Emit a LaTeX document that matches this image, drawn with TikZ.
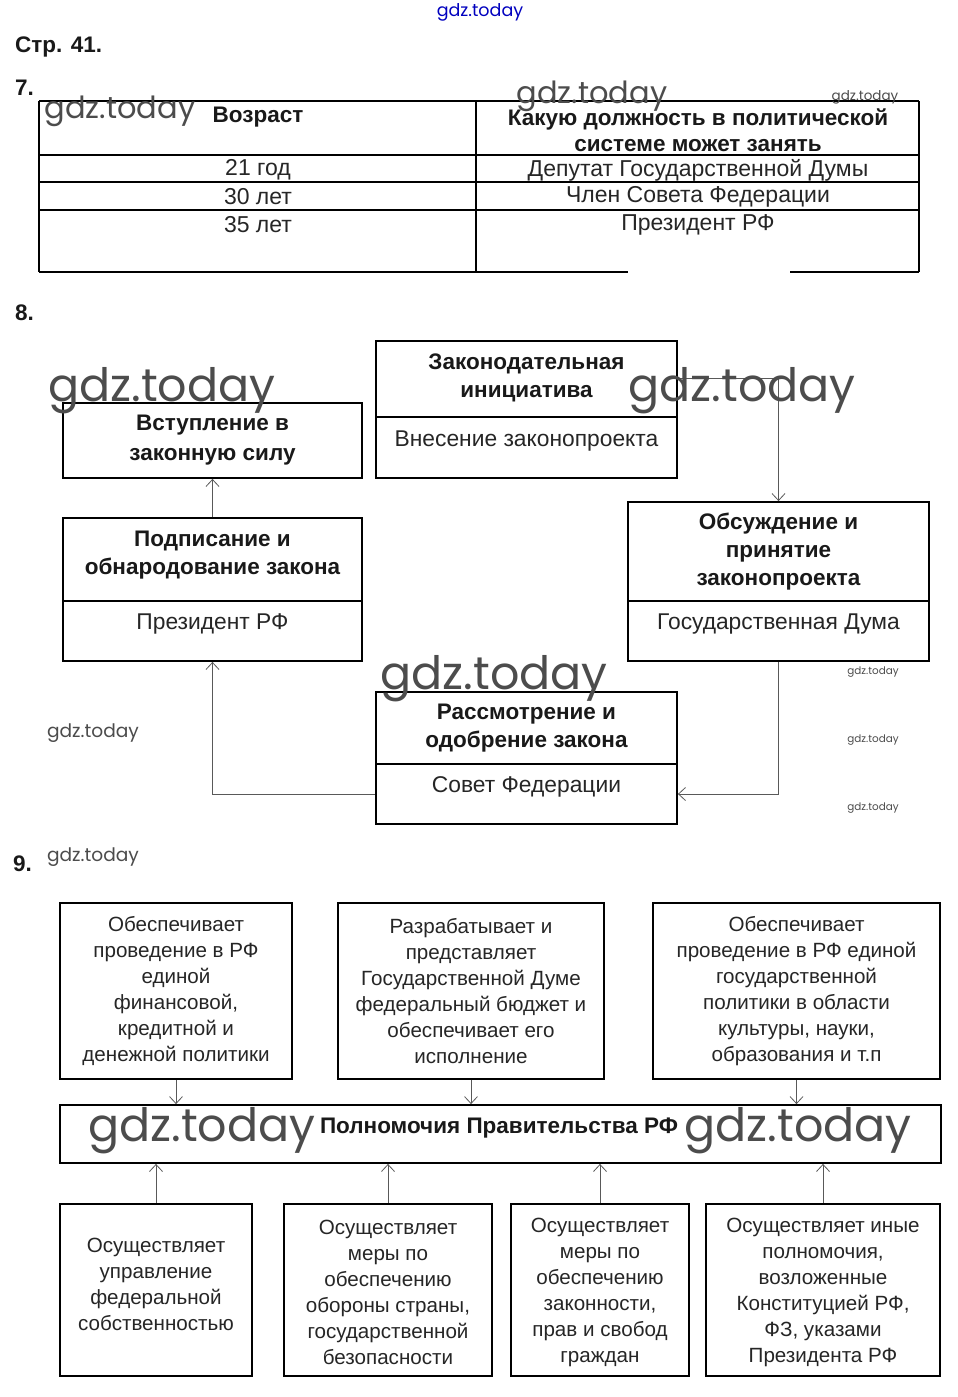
\documentclass[tikz,border=0pt]{standalone}
\usepackage{fontspec}
\setmainfont{Liberation Sans}
\newfontfamily\wmfont{Poppins}
\usetikzlibrary{arrows.meta,calc}
\begin{document}
\begin{tikzpicture}[x=1pt,y=-1pt,
  box/.style={draw=black, line width=1.8pt, inner sep=0pt},
  tbl/.style={draw=black, line width=1.3pt},
  dv/.style={draw=black, line width=1.8pt},
  txt/.style={align=center, inner sep=0pt, text=black!85, font=\fontsize{22.8}{28}\selectfont},
  ttl/.style={align=center, inner sep=0pt, text=black!90, font=\bfseries\fontsize{22.5}{28}\selectfont},
  stx/.style={align=center, inner sep=0pt, text=black!85, font=\fontsize{20.6}{26}\selectfont},
  arr/.style={draw=black!65, line width=0.8pt, -{Straight Barb[length=7pt,width=13pt]}},
  wm/.style={inner sep=0pt, text=black!70, font=\wmfont\fontsize{#1}{#1}\selectfont},
  hd/.style={inner sep=0pt, anchor=west, text=black!90, font=\bfseries\fontsize{22.5}{24}\selectfont}]
\fill[white] (0,0) rectangle (958,1397);
\useasboundingbox (0,0) rectangle (958,1397);

% ---------- header ----------
\node[wm=17.5, text=blue!75!black] (wtop) at (480,12) {gdz.today};
\node[hd] (str) at (15,47) {Стр. 41.};
\node[hd] (n7) at (15,88) {7.};

% ---------- table (7) ----------
\draw[tbl] (39,101) -- (919,101);
\draw[tbl] (39,155) -- (919,155);
\draw[tbl] (39,182) -- (919,182);
\draw[tbl] (39,210) -- (919,210);
\draw[tbl] (39,101) -- (39,272);
\draw[tbl] (476,101) -- (476,272);
\draw[tbl] (919,101) -- (919,272);
\draw[tbl] (39,272) -- (628,272);
\draw[tbl] (790,272) -- (919,272);

\node[ttl] (h1) at (258,117) {Возраст};
\node[ttl, font=\bfseries\fontsize{22.5}{26}\selectfont] (h2) at (698,130) {Какую должность в политической\\системе может занять};
\node[txt, font=\fontsize{23}{28}\selectfont] (r1a) at (258,170) {21 год};
\node[txt, font=\fontsize{23}{28}\selectfont] (r1b) at (698,170) {Депутат Государственной Думы};
\node[txt, font=\fontsize{23}{28}\selectfont] (r2a) at (258,197) {30 лет};
\node[txt, font=\fontsize{23}{28}\selectfont] (r2b) at (698,197) {Член Совета Федерации};
\node[txt, font=\fontsize{23}{28}\selectfont] (r3a) at (258,225) {35 лет};
\node[txt, font=\fontsize{23}{28}\selectfont] (r3b) at (698,225) {Президент РФ};

\node[wm=30.5] (w1) at (120,111) {gdz.today};
\node[wm=30.5] (w2) at (592,96) {gdz.today};
\node[wm=13.5] (w3) at (865,97) {gdz.today};

% ---------- scheme (8) ----------
\node[hd] (n8) at (15,313) {8.};

\node[box, minimum width=301pt, minimum height=137pt] (A) at (526.5,409.5) {};
\draw[dv] (376,417) -- (677,417);
\node[ttl] (At) at (526.5,378) {Законодательная\\инициатива};
\node[txt] (Ab) at (526.5,441) {Внесение законопроекта};

\node[box, minimum width=299pt, minimum height=75pt] (B) at (212.5,440.5) {};
\node[ttl, font=\bfseries\fontsize{22.5}{30}\selectfont] (Bt) at (212.5,440) {Вступление в\\законную силу};

\node[box, minimum width=299pt, minimum height=143pt] (C) at (212.5,589.5) {};
\draw[dv] (63,601) -- (362,601);
\node[ttl] (Ct) at (212.5,555) {Подписание и\\обнародование закона};
\node[txt] (Cb) at (212.5,624) {Президент РФ};

\node[box, minimum width=301pt, minimum height=159pt] (D) at (778.5,581.5) {};
\draw[dv] (628,601) -- (929,601);
\node[ttl] (Dt) at (778.5,552) {Обсуждение и\\принятие\\законопроекта};
\node[txt] (Db) at (778.5,624) {Государственная Дума};

\node[box, minimum width=301pt, minimum height=132pt] (E) at (526.5,758) {};
\draw[dv] (376,764) -- (677,764);
\node[ttl] (Et) at (526.5,728) {Рассмотрение и\\одобрение закона};
\node[txt] (Eb) at (526.5,787) {Совет Федерации};

\draw[arr] ($(A.north east)+(0,38)$) -| (D.north);
\draw[arr] (D.south) |- ($(E.east)+(0,36)$);
\draw[arr] ($(E.west)+(0,36)$) -| (C.south);
\draw[arr] (C.north) -- (B.south);

\node[wm=46] (w4) at (162,391) {gdz.today};
\node[wm=46] (w5) at (742,391) {gdz.today};
\node[wm=46] (w6) at (494,679) {gdz.today};
\node[wm=18.6] (w7) at (93,733) {gdz.today};
\node[wm=10.4] (w8) at (873,672) {gdz.today};
\node[wm=10.4] (w9) at (873,740) {gdz.today};
\node[wm=10.4] (w10) at (873,808) {gdz.today};
\node[wm=18.6] (w11) at (93,857) {gdz.today};

% ---------- scheme (9) ----------
\node[hd] (n9) at (13,864) {9.};

\node[box, minimum width=232pt, minimum height=176pt] (T1) at (176,991) {};
\node[box, minimum width=266pt, minimum height=176pt] (T2) at (471,991) {};
\node[box, minimum width=287pt, minimum height=176pt] (T3) at (796.5,991) {};
\node[stx] (T1t) at (176,991) {Обеспечивает\\проведение в РФ\\единой\\финансовой,\\кредитной и\\денежной политики};
\node[stx] (T2t) at (471,991) {Разрабатывает и\\представляет\\Государственной Думе\\федеральный бюджет и\\обеспечивает его\\исполнение};
\node[stx] (T3t) at (796.5,991) {Обеспечивает\\проведение в РФ единой\\государственной\\политики в области\\культуры, науки,\\образования и т.п};

\node[box, minimum width=881pt, minimum height=58pt] (M) at (500.5,1134) {};
\node[ttl, font=\bfseries\fontsize{22.5}{24}\selectfont] (Mt) at (499,1128) {Полномочия Правительства РФ};

\node[box, minimum width=192pt, minimum height=172pt] (B1) at (156,1290) {};
\node[box, minimum width=208pt, minimum height=172pt] (B2) at (388,1290) {};
\node[box, minimum width=178pt, minimum height=172pt] (B3) at (600,1290) {};
\node[box, minimum width=234pt, minimum height=172pt] (B4) at (823,1290) {};
\node[stx] (B1t) at (156,1284) {Осуществляет\\управление\\федеральной\\собственностью};
\node[stx] (B2t) at (388,1292) {Осуществляет\\меры по\\обеспечению\\обороны страны,\\государственной\\безопасности};
\node[stx] (B3t) at (600,1292) {Осуществляет\\меры по\\обеспечению\\законности,\\прав и свобод\\граждан};
\node[stx] (B4t) at (823,1292) {Осуществляет иные\\полномочия,\\возложенные\\Конституцией РФ,\\ФЗ, указами\\Президента РФ};

\draw[arr] (T1.south) -- (T1.south |- M.north);
\draw[arr] (T2.south) -- (T2.south |- M.north);
\draw[arr] (T3.south) -- (T3.south |- M.north);
\draw[arr] (B1.north) -- (B1.north |- M.south);
\draw[arr] (B2.north) -- (B2.north |- M.south);
\draw[arr] (B3.north) -- (B3.north |- M.south);
\draw[arr] (B4.north) -- (B4.north |- M.south);

\node[wm=46] (w12) at (202,1131) {gdz.today};
\node[wm=46] (w13) at (798,1131) {gdz.today};
\end{tikzpicture}
\end{document}
